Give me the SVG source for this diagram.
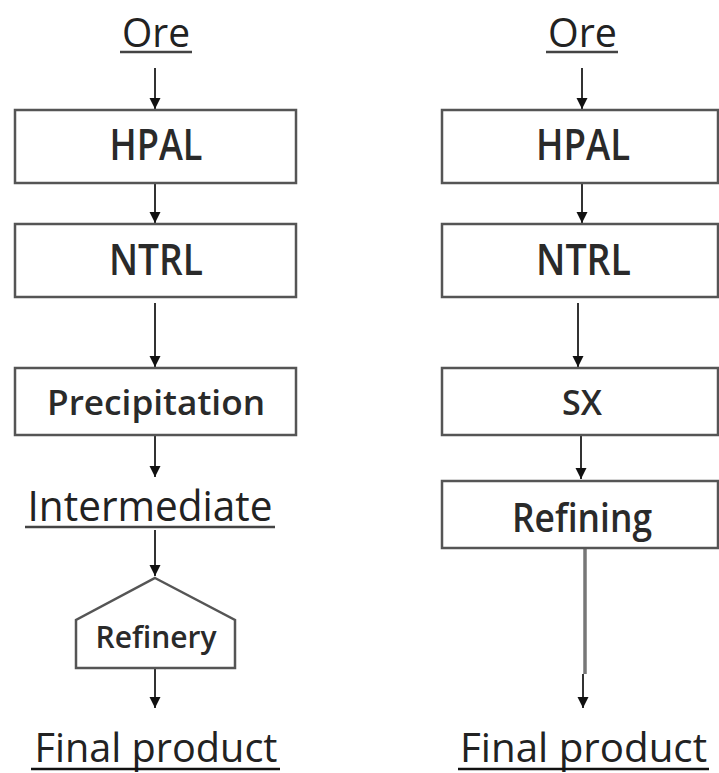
<svg xmlns="http://www.w3.org/2000/svg" width="719" height="773" viewBox="0 0 719 773">
<style>
.box{fill:#fff;stroke:#555;stroke-width:2.5}
.t{font-family:"Open Sans","Noto Sans",sans-serif;fill:#222;text-anchor:middle}
.b{font-weight:600;fill:#2a2a2a}
.ul{stroke:#444;stroke-width:2.5}
.c{stroke:#333;stroke-width:2;fill:none}
</style>
<defs>
<marker id="ah" markerUnits="userSpaceOnUse" markerWidth="12" markerHeight="12" refX="11" refY="6" orient="auto">
<path d="M0,0.5 L11,6 L0,11.5 z" fill="#111"/>
</marker>
</defs>
<rect width="719" height="773" fill="#fff"/>
<g id="connectors">
<line class="c" x1="155" y1="68" x2="155" y2="109" marker-end="url(#ah)"/>
<line class="c" x1="155" y1="184" x2="155" y2="223" marker-end="url(#ah)"/>
<line class="c" x1="155" y1="303" x2="155" y2="367" marker-end="url(#ah)"/>
<line class="c" x1="155" y1="436" x2="155" y2="477" marker-end="url(#ah)"/>
<line class="c" x1="155" y1="530" x2="155" y2="576" marker-end="url(#ah)"/>
<line class="c" x1="155" y1="669" x2="155" y2="708" marker-end="url(#ah)"/>
<line class="c" x1="582" y1="68" x2="582" y2="109" marker-end="url(#ah)"/>
<line class="c" x1="582" y1="184" x2="582" y2="223" marker-end="url(#ah)"/>
<line class="c" x1="578" y1="303" x2="578" y2="367" marker-end="url(#ah)"/>
<line class="c" x1="581" y1="436" x2="581" y2="479" marker-end="url(#ah)"/>
<line x1="585" y1="549" x2="585" y2="674" stroke="#777" stroke-width="3.5"/>
<line class="c" x1="583" y1="674" x2="583" y2="708" marker-end="url(#ah)"/>
</g>
<g id="ore-left">
<text class="t" x="156" y="47" font-size="40" textLength="68" lengthAdjust="spacingAndGlyphs">Ore</text>
<line class="ul" x1="120" y1="52" x2="192" y2="52"/>
</g>
<g id="hpal-left">
<rect class="box" x="15" y="110" width="281" height="73"/>
<text class="t b" x="156" y="160" font-size="43" textLength="93" lengthAdjust="spacingAndGlyphs">HPAL</text>
</g>
<g id="ntrl-left">
<rect class="box" x="15" y="224" width="281" height="73"/>
<text class="t b" x="156" y="275" font-size="43" textLength="94" lengthAdjust="spacingAndGlyphs">NTRL</text>
</g>
<g id="precipitation">
<rect class="box" x="15" y="368" width="281" height="67"/>
<text class="t b" x="156" y="415" font-size="35" textLength="218" lengthAdjust="spacingAndGlyphs">Precipitation</text>
</g>
<g id="intermediate">
<text class="t" x="150" y="521" font-size="42" textLength="245" lengthAdjust="spacingAndGlyphs">Intermediate</text>
<line class="ul" x1="25" y1="527" x2="275" y2="527"/>
</g>
<g id="refinery">
<path class="box" d="M155,578 L235,620 L235,668 L76,668 L76,620 Z"/>
<text class="t b" x="156" y="648" font-size="30" textLength="121" lengthAdjust="spacingAndGlyphs">Refinery</text>
</g>
<g id="final-left">
<text class="t" x="156" y="762" font-size="40" textLength="243" lengthAdjust="spacingAndGlyphs">Final product</text>
<line x1="31" y1="769" x2="280" y2="769" stroke="#111" stroke-width="2.5"/>
</g>
<g id="ore-right">
<text class="t" x="582.5" y="47" font-size="40" textLength="69" lengthAdjust="spacingAndGlyphs">Ore</text>
<line class="ul" x1="546" y1="52" x2="618" y2="52"/>
</g>
<g id="hpal-right">
<rect class="box" x="442" y="110" width="276" height="73"/>
<text class="t b" x="583" y="160" font-size="43" textLength="94" lengthAdjust="spacingAndGlyphs">HPAL</text>
</g>
<g id="ntrl-right">
<rect class="box" x="442" y="224" width="276" height="73"/>
<text class="t b" x="583.5" y="275" font-size="43" textLength="95" lengthAdjust="spacingAndGlyphs">NTRL</text>
</g>
<g id="sx">
<rect class="box" x="442" y="368" width="276" height="67"/>
<text class="t b" x="582" y="415" font-size="34" textLength="40" lengthAdjust="spacingAndGlyphs">SX</text>
</g>
<g id="refining">
<rect class="box" x="442" y="481" width="276" height="67"/>
<text class="t b" x="582" y="532" font-size="39" textLength="140" lengthAdjust="spacingAndGlyphs">Refining</text>
</g>
<g id="final-right">
<text class="t" x="583.5" y="762" font-size="40" textLength="247" lengthAdjust="spacingAndGlyphs">Final product</text>
<line x1="458" y1="769" x2="709" y2="769" stroke="#111" stroke-width="2.5"/>
</g>
</svg>
